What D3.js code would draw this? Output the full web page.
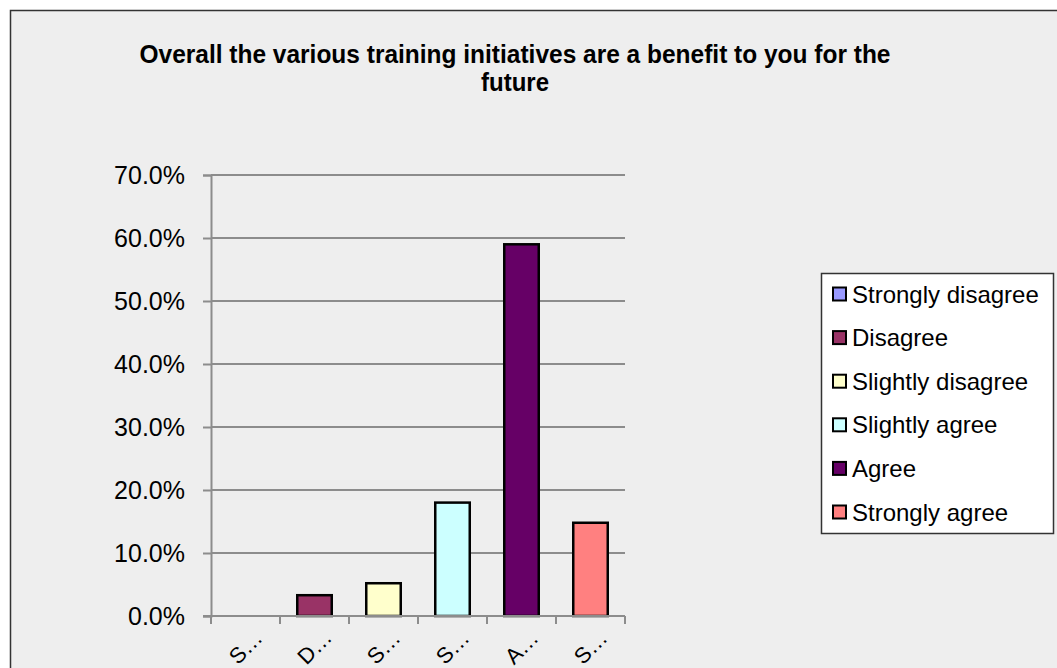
<!DOCTYPE html>
<html>
<head>
<meta charset="utf-8">
<script src="https://cdn.jsdelivr.net/npm/d3@7"></script>
<style>
  body { margin: 0; background: #ffffff; }
  svg { display: block; font-family: 'Liberation Sans', Arial, sans-serif; }
</style>
</head>
<body>
<div id="chart"></div>
<script>
// data
var categories = ['Strongly disagree', 'Disagree', 'Slightly disagree', 'Slightly agree', 'Agree', 'Strongly agree'];
var shortLabels = ['S\u2026', 'D\u2026', 'S\u2026', 'S\u2026', 'A\u2026', 'S\u2026'];
var values = [0, 3.3, 5.2, 18.0, 59.0, 14.8];
var yTicks = [0, 10, 20, 30, 40, 50, 60, 70];
var colors = ['#9999ff', '#993366', '#ffffcc', '#ccffff', '#660066', '#ff8080'];
var titleLines = ['Overall the various training initiatives are a benefit to you for the', 'future'];

var svgWidth = 1057;
var svgHeight = 668;

var margins = {
    top: 175,
    left: 211,
    right: 432,
    bottom: 52
};

var width = svgWidth - margins.left - margins.right;
var height = svgHeight - margins.top - margins.bottom;

var svg = d3.select('#chart')
    .append('svg')
    .attr('width', svgWidth)
    .attr('height', svgHeight);

// chart frame
svg.append('rect')
    .attr('x', 10.5)
    .attr('y', 10.5)
    .attr('width', 1070)
    .attr('height', 680)
    .attr('fill', '#eeeeee')
    .attr('stroke', '#333')
    .attr('stroke-width', 1.5);

// title
svg.append('text')
    .attr('x', 515)
    .attr('y', 63)
    .attr('text-anchor', 'middle')
    .style('font-size', '26px')
    .style('font-weight', 'bold')
    .selectAll('tspan')
    .data(titleLines)
    .enter()
    .append('tspan')
    .attr('x', 515)
    .attr('dy', (d, i) => i === 0 ? 0 : 28)
    .attr('textLength', (d, i) => i === 0 ? 751 : 68)
    .attr('lengthAdjust', 'spacingAndGlyphs')
    .text(d => d);

var chartGroup = svg.append('g')
    .attr('transform', `translate(${margins.left}, ${margins.top})`);

// scales
var xScale = d3.scaleBand()
    .domain(categories)
    .range([0, width])
    .paddingInner(0.5)
    .paddingOuter(0.25);

var yScale = d3.scaleLinear()
    .domain([0, 70])
    .range([height, 0]);

// gridlines
chartGroup.append('g')
    .selectAll('line')
    .data(yTicks)
    .enter()
    .append('line')
    .attr('x1', 0)
    .attr('x2', width)
    .attr('y1', d => yScale(d))
    .attr('y2', d => yScale(d))
    .attr('stroke', '#8c8c8c')
    .attr('stroke-width', 2);

// y axis
var leftAxis = d3.axisLeft(yScale)
    .tickValues(yTicks)
    .tickSize(8)
    .tickPadding(18)
    .tickFormat(d => d.toFixed(1) + '%');

var yAxisG = chartGroup.append('g')
    .call(leftAxis);
yAxisG.select('.domain').attr('stroke', '#8c8c8c').attr('stroke-width', 2);
yAxisG.selectAll('.tick line').attr('stroke', '#8c8c8c').attr('stroke-width', 2);
yAxisG.selectAll('.tick text')
    .style('font-size', '25px')
    .style('font-family', "'Liberation Sans', Arial, sans-serif")
    .attr('fill', '#000');

// bars
chartGroup.selectAll('rect.bar')
    .data(values)
    .enter()
    .append('rect')
    .attr('class', 'bar')
    .attr('x', (d, i) => xScale(categories[i]))
    .attr('y', d => yScale(d))
    .attr('width', xScale.bandwidth())
    .attr('height', d => height - yScale(d))
    .attr('fill', (d, i) => colors[i])
    .attr('stroke', '#000')
    .attr('stroke-width', d => d > 0 ? 2.5 : 0);

// x axis
var stepX = xScale.step();
var xTickPos = d3.range(categories.length + 1).map(i => i * stepX);

chartGroup.append('line')
    .attr('x1', -8)
    .attr('x2', width)
    .attr('y1', height)
    .attr('y2', height)
    .attr('stroke', '#8c8c8c')
    .attr('stroke-width', 2);

chartGroup.append('g')
    .selectAll('line')
    .data(xTickPos)
    .enter()
    .append('line')
    .attr('x1', d => d)
    .attr('x2', d => d)
    .attr('y1', height)
    .attr('y2', height + 8)
    .attr('stroke', '#8c8c8c')
    .attr('stroke-width', 2);

chartGroup.append('g')
    .selectAll('text')
    .data(categories)
    .enter()
    .append('text')
    .attr('transform', (d, i) => `translate(${xScale(d) + xScale.bandwidth() / 2}, ${height + 31}) rotate(-45)`)
    .attr('text-anchor', 'middle')
    .attr('dy', '0.35em')
    .style('font-size', '22px')
    .text((d, i) => shortLabels[i]);

// legend
var legend = svg.append('g')
    .attr('transform', 'translate(821, 273)');

legend.append('rect')
    .attr('x', 0.5)
    .attr('y', 0.5)
    .attr('width', 232)
    .attr('height', 260)
    .attr('fill', '#ffffff')
    .attr('stroke', '#333')
    .attr('stroke-width', 1.5);

var legendItems = legend.selectAll('g.item')
    .data(categories)
    .enter()
    .append('g')
    .attr('class', 'item')
    .attr('transform', (d, i) => `translate(0, ${21 + i * 43.6})`);

legendItems.append('rect')
    .attr('x', 12)
    .attr('y', -6.5)
    .attr('width', 13)
    .attr('height', 13)
    .attr('fill', (d, i) => colors[i])
    .attr('stroke', '#000')
    .attr('stroke-width', 2);

legendItems.append('text')
    .attr('x', 31)
    .attr('dy', '0.36em')
    .style('font-size', '24px')
    .text(d => d);
</script>
</body>
</html>
